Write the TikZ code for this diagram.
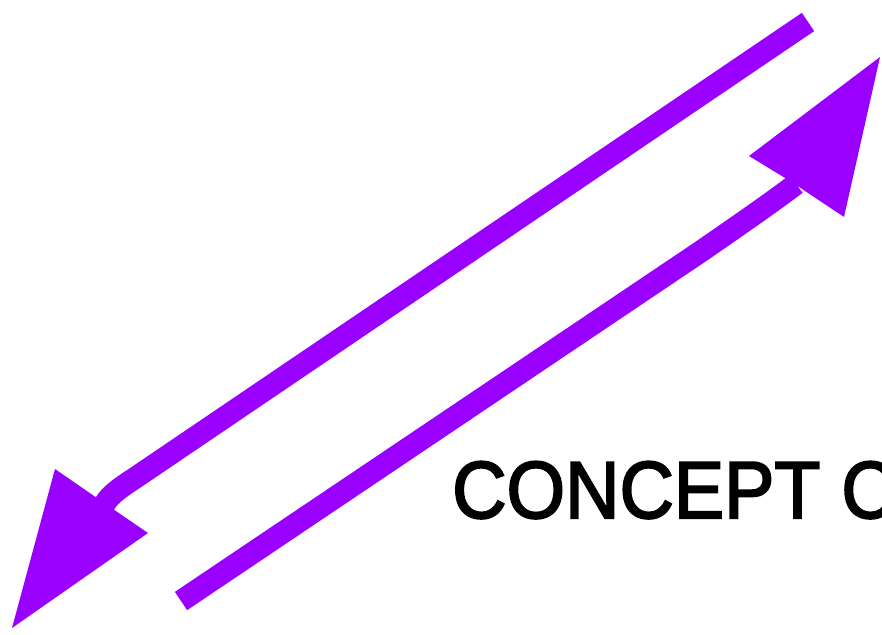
\documentclass[tikz,border=0pt]{standalone}
\usepackage{fontspec}
\setmainfont{Liberation Sans}
\newfontfamily\titlefont[FakeBold=2.5]{Liberation Sans}
\definecolor{arrowpurple}{HTML}{9900FF}
\tikzset{
  shaft/.style={draw=arrowpurple, line width=22pt},
  headfill/.style={fill=arrowpurple, draw=none},
  title/.style={inner sep=0pt, anchor=base west, font=\titlefont\fontsize{81}{81}\selectfont, xscale=0.93, transform shape}
}
\begin{document}
\begin{tikzpicture}[x=1pt,y=-1pt]
\useasboundingbox (0,0) rectangle (882,634);
\clip (0,0) rectangle (882,634);
% arrow 1 (down-left)
\coordinate (t1) at (808,22);
\coordinate (b1) at (135,478);
\coordinate (e1) at (103,507);
\draw[shaft] (t1) -- (b1) .. controls (115,491) and (108,497) .. (e1);
\fill[headfill] (12,628) -- (55,469) -- (110,507) -- (148,533) -- cycle;
% arrow 2 (up-right)
\coordinate (t2) at (181,601);
\coordinate (b2) at (700,252);
\coordinate (e2) at (796,184);
\draw[shaft] (t2) -- (b2) .. controls (745,221) and (775,200) .. (e2);
\fill[headfill] (880,57) -- (844,217) -- (790,181) -- (749,156) -- cycle;
% text
\node[title] (txt) at (452,518) {CONCEPT C};
\end{tikzpicture}
\end{document}
